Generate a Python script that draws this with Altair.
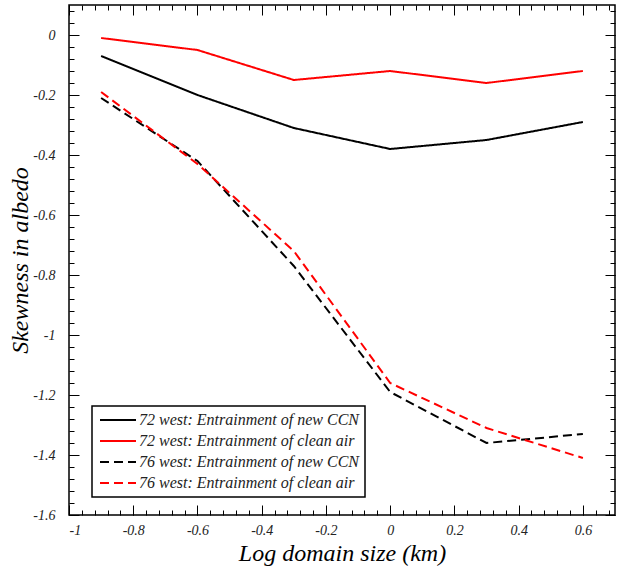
import altair as alt
import pandas as pd

x_vals = [-0.9, -0.6, -0.3, 0.0, 0.3, 0.6]
s72_ccn = [-0.07, -0.20, -0.31, -0.38, -0.35, -0.29]
s72_clean = [-0.01, -0.05, -0.15, -0.12, -0.16, -0.12]
s76_ccn = [-0.21, -0.42, -0.77, -1.19, -1.36, -1.33]
s76_clean = [-0.19, -0.43, -0.72, -1.16, -1.31, -1.41]

series_names = [
    "72 west: Entrainment of new CCN",
    "72 west: Entrainment of clean air",
    "76 west: Entrainment of new CCN",
    "76 west: Entrainment of clean air",
]
series_vals = [s72_ccn, s72_clean, s76_ccn, s76_clean]
colors = ["black", "red", "black", "red"]
dashes = [[1, 0], [1, 0], [9, 5], [9, 5]]

x_major = [-1, -0.8, -0.6, -0.4, -0.2, 0, 0.2, 0.4, 0.6]
x_minor = [round(-1 + 0.04 * i, 2) for i in range(43)]
y_major = [-1.6, -1.4, -1.2, -1, -0.8, -0.6, -0.4, -0.2, 0]
y_minor = [round(-1.6 + 0.04 * i, 2) for i in range(43)]

rows = []
for name, vals in zip(series_names, series_vals):
    for xv, yv in zip(x_vals, vals):
        rows.append({"x": xv, "y": yv, "series": name})
df = pd.DataFrame(rows)

FONT = "Liberation Serif"
xs = alt.Scale(domain=[-1, 0.7], nice=False, zero=False)
ys = alt.Scale(domain=[-1.6, 0.1], nice=False, zero=False)

def ax(orient, values, size, labels, title=None, pad=0, tpad=4):
    kw = dict(orient=orient, values=values, tickSize=size, offset=-size,
              domain=False, grid=False, labels=labels, tickColor="black",
              tickWidth=1)
    if labels:
        kw.update(labelFont=FONT, labelFontStyle="italic", labelFontSize=14,
                  labelColor="#222", labelPadding=pad,
                  labelExpr="'' + datum.value")
    if title:
        kw.update(title=title, titleFont=FONT, titleFontStyle="italic",
                  titleFontSize=24, titleFontWeight="normal", titleColor="black",
                  titlePadding=tpad)
    else:
        kw.update(title=None)
    return alt.Axis(**kw)

lines = alt.Chart(df).mark_line(strokeWidth=2).encode(
    x=alt.X("x:Q", scale=xs,
            axis=ax("bottom", x_major, 10, True, "Log domain size (km)", pad=8)),
    y=alt.Y("y:Q", scale=ys,
            axis=ax("left", y_major, 10, True, "Skewness in albedo", pad=14, tpad=0)),
    color=alt.Color("series:N", scale=alt.Scale(domain=series_names, range=colors),
                    sort=series_names,
                    legend=alt.Legend(
                        title=None, orient="none", legendX=23, legendY=401,
                        symbolType="M-1,0H5", symbolSize=144, symbolStrokeWidth=2,
                        labelFont=FONT, labelFontStyle="italic", labelFontSize=16,
                        labelColor="#222", strokeColor="black", padding=6,
                        rowPadding=5, labelOffset=25, fillColor="white",
                        labelLimit=400)),
    strokeDash=alt.StrokeDash("series:N",
                              scale=alt.Scale(domain=series_names, range=dashes),
                              sort=series_names, legend=None),
    detail="series:N",
)

base = alt.Chart(df).mark_point(opacity=0)

def ghost(xa, ya):
    return base.encode(x=alt.X("x:Q", scale=xs, axis=xa),
                       y=alt.Y("y:Q", scale=ys, axis=ya))

layers = alt.layer(
    lines,
    ghost(ax("top", x_major, 10, False), ax("right", y_major, 10, False)),
    ghost(ax("bottom", x_minor, 5, False), ax("left", y_minor, 5, False)),
    ghost(ax("top", x_minor, 5, False), ax("right", y_minor, 5, False)),
).resolve_axis(x="independent", y="independent")

chart = layers.properties(
    width=546, height=510,
    padding={"left": 69, "top": 5, "right": 8, "bottom": 54},
    autosize=alt.AutoSizeParams(type="none"),
).configure_view(stroke="black", strokeWidth=1.5).configure_legend(
    strokeColor="black", strokeWidth=1.5, fillColor="white"
)

chart.save("out.html", embed_options={"renderer": "svg", "actions": False})
